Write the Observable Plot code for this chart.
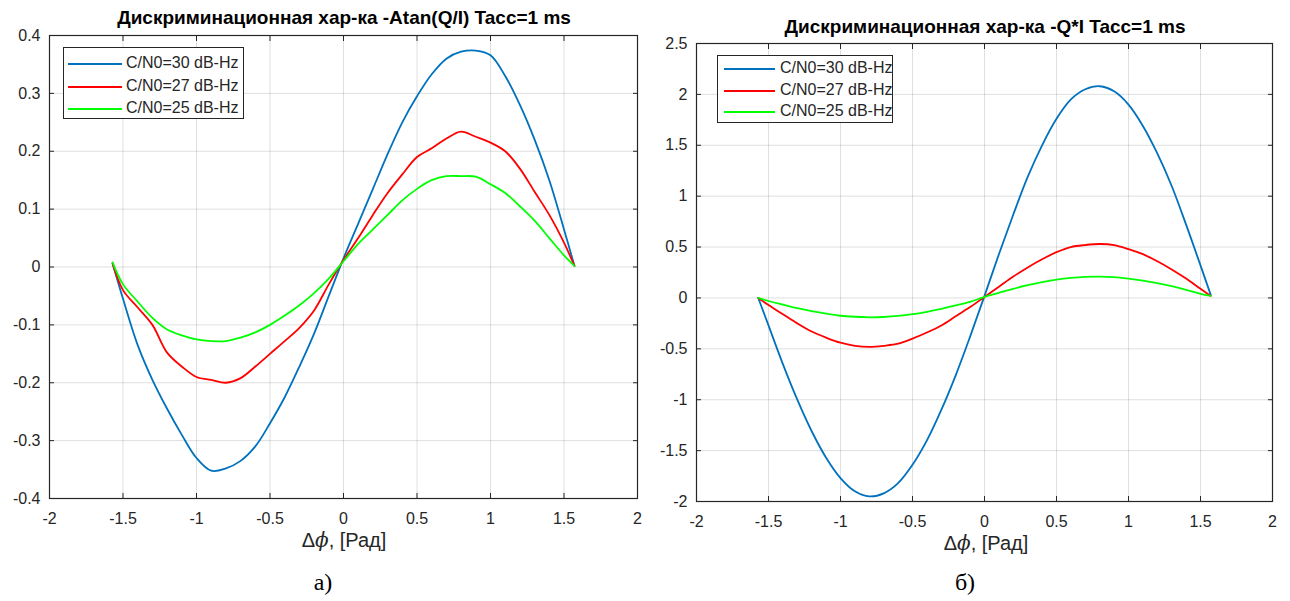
<!DOCTYPE html>
<html><head><meta charset="utf-8">
<script src="https://cdn.jsdelivr.net/npm/d3@7"></script>
<script src="https://cdn.jsdelivr.net/npm/@observablehq/plot@0.6"></script>
<style>
body{margin:0;background:#fff;}
#wrap{position:relative;width:1290px;height:601px;overflow:hidden;font-family:"Liberation Sans",Arial,sans-serif;color:#262626;background:#fff}
.abs{position:absolute;white-space:nowrap}
.title{font-weight:bold;font-size:19px;transform:translate(-50%,-50%);color:#000}
.xlab{font-size:20px;transform:translate(-50%,-50%)}
.cap{font-family:"Liberation Serif","Times New Roman",serif;font-size:24px;transform:translate(-50%,-50%);color:#000}
.legend{background:#fff;border:1px solid #262626;box-sizing:border-box}
.lrow{position:absolute;font-size:16px;line-height:16px}
.lline{position:absolute;height:2px}
</style>
</head><body>
<div id="wrap"></div>
<script>
// ---- data ----
const series = ["C/N0=30 dB-Hz", "C/N0=27 dB-Hz", "C/N0=25 dB-Hz"];
const xTicks = [-2, -1.5, -1, -0.5, 0, 0.5, 1, 1.5, 2];
const yTicksA = [-0.4, -0.3, -0.2, -0.1, 0, 0.1, 0.2, 0.3, 0.4];
const yTicksB = [-2, -1.5, -1, -0.5, 0, 0.5, 1, 1.5, 2, 2.5];
const titleA = "Дискриминационная хар-ка -Atan(Q/I) Tacc=1 ms";
const titleB = "Дискриминационная хар-ка -Q*I Tacc=1 ms";
const captionA = "а)";
const captionB = "б)";

const dphi = [-1.571,-1.5,-1.4,-1.3,-1.2,-1.1,-1.0,-0.9,-0.8,-0.7,-0.6,-0.5,-0.4,-0.3,-0.2,-0.1,0,0.1,0.2,0.3,0.4,0.5,0.6,0.7,0.8,0.9,1.0,1.1,1.2,1.3,1.4,1.5,1.571];

const atan30 = [0.006,-0.055,-0.135,-0.195,-0.245,-0.29,-0.33,-0.352,-0.348,-0.335,-0.31,-0.27,-0.225,-0.172,-0.115,-0.05,0.015,0.075,0.135,0.195,0.25,0.295,0.333,0.36,0.372,0.374,0.366,0.33,0.28,0.22,0.15,0.065,0.002];
const atan27 = [0.006,-0.04,-0.07,-0.1,-0.148,-0.172,-0.19,-0.195,-0.2,-0.192,-0.172,-0.15,-0.128,-0.105,-0.075,-0.03,0.012,0.05,0.09,0.128,0.16,0.19,0.205,0.222,0.234,0.225,0.215,0.2,0.17,0.13,0.09,0.042,0.002];
const atan25 = [0.008,-0.03,-0.06,-0.088,-0.108,-0.118,-0.125,-0.128,-0.128,-0.122,-0.113,-0.1,-0.084,-0.066,-0.045,-0.02,0.01,0.04,0.065,0.09,0.115,0.135,0.15,0.157,0.157,0.156,0.143,0.128,0.105,0.08,0.05,0.02,0.002];

const qi30 = [0,-0.27,-0.65,-1.0,-1.31,-1.57,-1.77,-1.9,-1.95,-1.92,-1.82,-1.64,-1.4,-1.1,-0.76,-0.38,0.02,0.43,0.82,1.19,1.5,1.76,1.95,2.05,2.08,2.03,1.9,1.69,1.42,1.1,0.72,0.32,0.03];
const qi27 = [0,-0.07,-0.16,-0.25,-0.33,-0.39,-0.44,-0.47,-0.48,-0.47,-0.45,-0.4,-0.34,-0.27,-0.18,-0.09,0.01,0.11,0.21,0.3,0.38,0.45,0.5,0.52,0.53,0.52,0.48,0.43,0.36,0.28,0.19,0.09,0.02];
const qi25 = [0,-0.03,-0.065,-0.1,-0.13,-0.155,-0.175,-0.185,-0.19,-0.187,-0.177,-0.16,-0.136,-0.107,-0.074,-0.038,0.01,0.05,0.09,0.125,0.155,0.18,0.197,0.207,0.21,0.205,0.19,0.17,0.145,0.115,0.08,0.04,0.02];

// ---- style ----
const colors = ["#0072BD", "#FF0000", "#00FF00"];
const ink = "#262626";
const font = "'Liberation Sans', Arial, sans-serif";

function toRows(ys) {
  const rows = [];
  ys.forEach((arr, k) => arr.forEach((v, i) => rows.push({x: dphi[i], y: v, s: series[k]})));
  return rows;
}
const rowsA = toRows([atan30, atan27, atan25]);
const rowsB = toRows([qi30, qi27, qi25]);
const fmt = d => String(d);

function makePlot(rows, yDomain, yTicks, m) {
  return Plot.plot({
    width: 645, height: 601,
    marginLeft: m.l, marginRight: m.r, marginTop: m.t, marginBottom: m.b,
    x: {domain: [-2, 2]},
    y: {domain: yDomain},
    color: {domain: series, range: colors},
    style: {fontFamily: font, fontSize: "16px", color: ink, background: "transparent", overflow: "visible"},
    marks: [
      Plot.gridX(xTicks, {stroke: ink, strokeOpacity: 0.15}),
      Plot.gridY(yTicks, {stroke: ink, strokeOpacity: 0.15}),
      Plot.line(rows, {x: "x", y: "y", stroke: "s", z: "s", strokeWidth: 1.8, curve: "catmull-rom"}),
      Plot.axisX(xTicks, {anchor: "bottom", tickSize: -5, tickPadding: 19, tickFormat: fmt, label: null, stroke: ink, fill: ink}),
      Plot.axisX(xTicks, {anchor: "top", tickSize: -5, tickFormat: () => "", label: null, stroke: ink}),
      Plot.axisY(yTicks, {anchor: "left", tickSize: -5, tickPadding: 14, tickFormat: fmt, label: null, stroke: ink, fill: ink}),
      Plot.axisY(yTicks, {anchor: "right", tickSize: -5, tickFormat: () => "", label: null, stroke: ink}),
      Plot.frame({stroke: ink, strokeWidth: 1.2})
    ]
  });
}

const wrap = document.getElementById("wrap");
function place(el, left, top) {
  el.style.position = "absolute"; el.style.left = left + "px"; el.style.top = top + "px";
  wrap.appendChild(el);
}
const pA = makePlot(rowsA, [-0.4, 0.4], yTicksA, {l: 49, r: 8, t: 35, b: 103});
const pB = makePlot(rowsB, [-2, 2.5], yTicksB, {l: 51, r: 18, t: 43, b: 100});
place(pA, 0, 0);
place(pB, 645, 0);

function div(cls, html, x, y) {
  const d = document.createElement("div");
  d.className = "abs " + cls; d.innerHTML = html;
  d.style.left = x + "px"; d.style.top = y + "px";
  wrap.appendChild(d);
  return d;
}
div("title", titleA, 344, 18);
div("title", titleB, 985, 27);
const xl = "Δ<i style='font-family:\"DejaVu Serif\",serif'>ϕ</i>, [Рад]";
div("xlab", xl, 344, 540);
div("xlab", xl, 986, 543);
div("cap", captionA, 323, 582);
div("cap", captionB, 965, 582);

function legend(x, y, w, h, lineX0, lineX1, textX, rowsY) {
  const box = div("legend", "", x, y);
  box.style.width = w + "px"; box.style.height = h + "px";
  series.forEach((s, k) => {
    const ln = document.createElement("div");
    ln.className = "lline";
    ln.style.left = (lineX0 - x) + "px"; ln.style.width = (lineX1 - lineX0) + "px";
    ln.style.top = (rowsY[k] - y - 1) + "px"; ln.style.background = colors[k];
    box.appendChild(ln);
    const t = document.createElement("div");
    t.className = "lrow"; t.textContent = s;
    t.style.left = (textX - x) + "px"; t.style.top = (rowsY[k] - y - 9) + "px";
    box.appendChild(t);
  });
}
legend(63, 47, 181, 72, 67, 121, 125, [63, 85.5, 108]);
legend(717, 55, 176, 68, 723, 774, 779, [68, 89.5, 111]);
</script>
</body></html>
